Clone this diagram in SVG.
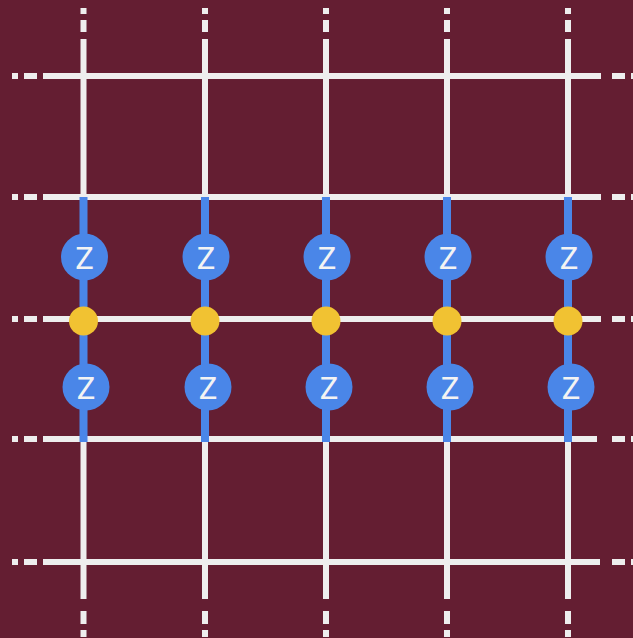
<svg xmlns="http://www.w3.org/2000/svg" width="633" height="638" viewBox="0 0 633 638">
<style>
.g{stroke:#eeeeee;stroke-width:6;fill:none}
.b{fill:#4a86e8}
.y{fill:#f1c232}
.t{font-family:Roboto,"Liberation Sans",sans-serif;font-size:31px;fill:#f3f3f3;text-anchor:middle;dominant-baseline:central}
</style>
<rect width="633" height="638" fill="#641e32"/>
<g id="grid">
<path class="g" d="M43 76H601M43 197H601M43 319H601M43 439H597M43 562H600"/>
<path class="g" d="M12 76h6M24 76h13M12 197h6M24 197h13M12 319h6M24 319h13M12 439h6M24 439h13M12 562h6M24 562h13"/>
<path class="g" d="M612 76h13M631 76h6M612 197h13M631 197h6M612 319h13M631 319h6M612 439h13M631 439h6M612 562h13M631 562h6"/>
<path class="g" d="M83.5 39V599M205 39V599M326 39V599M447 39V599M568 39V599"/>
<path class="g" d="M83.5 8v6M83.5 20v12M205 8v6M205 20v12M326 8v6M326 20v12M447 8v6M447 20v12M568 8v6M568 20v12"/>
<path class="g" d="M83.5 611v13M83.5 630v7M205 611v13M205 630v7M326 611v13M326 630v7M447 611v13M447 630v7M568 611v13M568 630v7"/>
</g>
<g id="connectors">
<rect class="b" x="79.5" y="197" width="8" height="245"/>
<rect class="b" x="201" y="197" width="8" height="245"/>
<rect class="b" x="322" y="197" width="8" height="245"/>
<rect class="b" x="443" y="197" width="8" height="245"/>
<rect class="b" x="564" y="197" width="8" height="245"/>
</g>
<g id="z1"><circle class="b" cx="84.5" cy="257" r="23.5"/><text class="t" x="84.5" y="258">Z</text></g>
<g id="z2"><circle class="b" cx="206" cy="257" r="23.5"/><text class="t" x="206" y="258">Z</text></g>
<g id="z3"><circle class="b" cx="327" cy="257" r="23.5"/><text class="t" x="327" y="258">Z</text></g>
<g id="z4"><circle class="b" cx="448" cy="257" r="23.5"/><text class="t" x="448" y="258">Z</text></g>
<g id="z5"><circle class="b" cx="569" cy="257" r="23.5"/><text class="t" x="569" y="258">Z</text></g>
<g id="y1"><circle class="y" cx="83.5" cy="321" r="14.5"/></g>
<g id="y2"><circle class="y" cx="205" cy="321" r="14.5"/></g>
<g id="y3"><circle class="y" cx="326" cy="321" r="14.5"/></g>
<g id="y4"><circle class="y" cx="447" cy="321" r="14.5"/></g>
<g id="y5"><circle class="y" cx="568" cy="321" r="14.5"/></g>
<g id="z6"><circle class="b" cx="86" cy="387" r="23.5"/><text class="t" x="86" y="388">Z</text></g>
<g id="z7"><circle class="b" cx="208" cy="387" r="23.5"/><text class="t" x="208" y="388">Z</text></g>
<g id="z8"><circle class="b" cx="329" cy="387" r="23.5"/><text class="t" x="329" y="388">Z</text></g>
<g id="z9"><circle class="b" cx="450" cy="387" r="23.5"/><text class="t" x="450" y="388">Z</text></g>
<g id="z10"><circle class="b" cx="571" cy="387" r="23.5"/><text class="t" x="571" y="388">Z</text></g>
</svg>
